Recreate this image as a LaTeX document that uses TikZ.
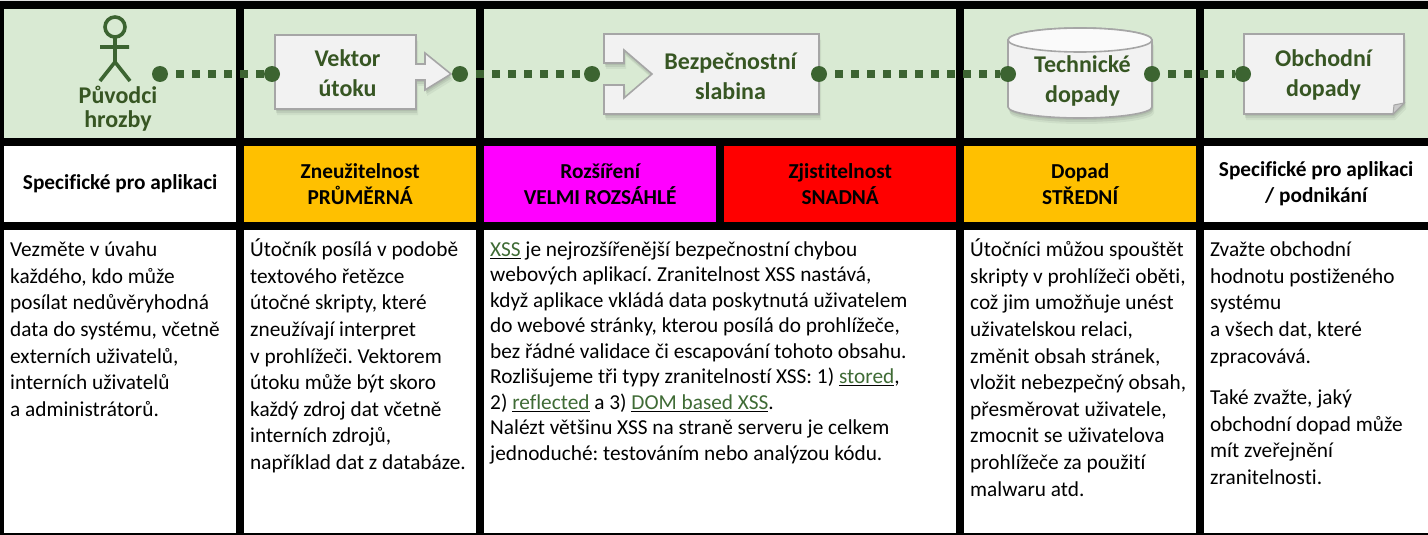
\documentclass[tikz,border=0pt]{standalone}
\usepackage{fontspec}
\setmainfont[Ligatures=NoCommon]{Carlito}
\usetikzlibrary{shadows}
\definecolor{bandgreen}{HTML}{D9EAD3}
\definecolor{darkgreen}{HTML}{375623}
\definecolor{dotgreen}{HTML}{3C6431}
\definecolor{linkgreen}{HTML}{3F6B35}
\definecolor{boxgray}{HTML}{F2F2F2}
\definecolor{boxedge}{HTML}{A6A6A6}
\definecolor{amber}{HTML}{FFC000}
\definecolor{hotmagenta}{HTML}{FF00FF}
\newcommand{\lnk}[1]{\underline{\textcolor{linkgreen}{#1}}}
\newcommand{\fl}{\rule{0pt}{20pt}}
\tikzset{
  x=1pt,y=-1pt,
  band/.style={fill=bandgreen,draw=none},
  cellbox/.style={draw=none,minimum width=232pt,minimum height=76pt,anchor=north west,inner sep=0pt,align=center,font=\frenchspacing\fontsize{21.3}{26}\selectfont\bfseries},
  bodytext/.style={anchor=north west,inner sep=0pt,align=left,font=\frenchspacing\fontsize{21.3}{26.6}\selectfont,text=black},
  densetext/.style={bodytext,font=\frenchspacing\fontsize{21.3}{25.5}\selectfont},
  title/.style={inner sep=0pt,align=center,font=\fontsize{24}{30}\selectfont\bfseries,text=darkgreen},
  actortitle/.style={title,font=\fontsize{24}{24}\selectfont\bfseries},
  shapebox/.style={fill=boxgray,draw=boxedge,line width=1.6pt,line join=miter,
    general shadow={shadow xshift=1pt,shadow yshift=-2pt,fill=black,opacity=.07},
    general shadow={shadow xshift=1pt,shadow yshift=-4pt,fill=black,opacity=.07},
    general shadow={shadow xshift=2pt,shadow yshift=-6pt,fill=black,opacity=.05}},
  joint/.style={circle,fill=dotgreen,draw=none,minimum size=16pt,inner sep=0pt},
  dotted link/.style={draw=dotgreen,line width=8pt,dash pattern=on 8pt off 8pt,dash phase=8pt},
  figure/.style={draw=dotgreen,line width=3.6pt}
}
\begin{document}
\begin{tikzpicture}
\useasboundingbox (0,0) rectangle (1428,535);
\fill[black] (0,1) rectangle (1428,535);
\fill[white!88!black] (0,0) rectangle (1428,1);
% green band
\fill[band] (4,9) rectangle (236,138);
\fill[band] (244,9) rectangle (476,138);
\fill[band] (484,9) rectangle (956,138);
\fill[band] (964,9) rectangle (1196,138);
\fill[band] (1204,9) rectangle (1428,138);
% rating row
\node[cellbox,fill=white] (h1) at (4,146) {Specifické pro aplikaci};
\node[cellbox,fill=amber] (h2) at (244,146) {Zneužitelnost\\PRŮMĚRNÁ};
\node[cellbox,fill=hotmagenta] (h3) at (484,146) {Rozšíření\\VELMI ROZSÁHLÉ};
\node[cellbox,fill=red] (h4) at (724,146) {Zjistitelnost\\SNADNÁ};
\node[cellbox,fill=amber] (h5) at (964,146) {Dopad\\STŘEDNÍ};
\node[cellbox,fill=white,minimum width=224pt] (h6) at (1204,146) {Specifické pro aplikaci\\/ podnikání};
% body cells
\fill[white] (4,230) rectangle (236,533);
\fill[white] (244,230) rectangle (476,533);
\fill[white] (484,230) rectangle (956,533);
\fill[white] (964,230) rectangle (1196,533);
\fill[white] (1204,230) rectangle (1428,533);
\node[bodytext] (t1) at (10,236.5) {\fl Vezměte v úvahu\\každého, kdo může\\posílat nedůvěryhodná\\data do systému, včetně\\externích uživatelů,\\interních uživatelů\\a administrátorů.};
\node[bodytext] (t2) at (250,236.5) {\fl Útočník posílá v podobě\\textového řetězce\\útočné skripty, které\\zneužívají interpret\\v prohlížeči. Vektorem\\útoku může být skoro\\každý zdroj dat včetně\\interních zdrojů,\\například dat z databáze.};
\node[densetext] (t3) at (490,236) {\fl\lnk{XSS} je nejrozšířenější bezpečnostní chybou\\webových aplikací. Zranitelnost XSS nastává,\\když aplikace vkládá data poskytnutá uživatelem\\do webové stránky, kterou posílá do prohlížeče,\\bez řádné validace či escapování tohoto obsahu.\\Rozlišujeme tři typy zranitelností XSS: 1) \lnk{stored},\\2) \lnk{reflected} a 3) \lnk{DOM based XSS}.\\Nalézt většinu XSS na straně serveru je celkem\\jednoduché: testováním nebo analýzou kódu.};
\node[bodytext] (t4) at (970,236.5) {\fl Útočníci můžou spouštět\\skripty v prohlížeči oběti,\\což jim umožňuje unést\\uživatelskou relaci,\\změnit obsah stránek,\\vložit nebezpečný obsah,\\přesměrovat uživatele,\\zmocnit se uživatelova\\prohlížeče za použití\\malwaru atd.};
\node[bodytext] (t5) at (1210,236.5) {\fl Zvažte obchodní\\hodnotu postiženého\\systému\\a všech dat, které\\zpracovává.\\[15pt]Také zvažte, jaký\\obchodní dopad může\\mít zveřejnění\\zranitelnosti.};
% vector box
\path[shapebox] (275,35) -- (416,35) -- (416,64) -- (425,64) -- (425,53) -- (451,74) -- (425,90) -- (425,80) -- (416,80) -- (416,109) -- (275,109) -- cycle;
\node[title] (vt) at (347.5,73) {Vektor\\útoku};
% weakness box
\path[shapebox] (604,34) -- (819,34) -- (819,114) -- (604,114) -- (604,85) -- (624,85) -- (624,98) -- (652,74) -- (624,50) -- (624,63) -- (604,63) -- cycle;
\node[title] (wk) at (730.5,76) {Bezpečnostní\\slabina};
% cylinder
\path[shapebox] (1008,40) -- (1008,107) arc[start angle=180,end angle=360,x radius=72,y radius=-11] -- (1152,40) arc[start angle=0,end angle=180,x radius=72,y radius=-12] -- cycle;
\draw[fill=white!96!gray,draw=boxedge,line width=1.6pt] (1080,40) ellipse[x radius=72,y radius=12];
\node[title] (td) at (1082.5,81) {Technické\\dopady};
% note
\path[shapebox] (1244,34) -- (1404,34) -- (1404,103) -- (1393,114) -- (1244,114) -- cycle;
\fill[boxedge!60!white,draw=boxedge,line width=1pt] (1404,103) -- (1394,105) -- (1393,114) -- cycle;
\node[title] (bd) at (1323.5,74.5) {Obchodní\\dopady};
% actor
\draw[figure] (115,27) circle[radius=10];
\draw[figure] (115,37) -- (115,62) (100,47) -- (129,47) (100,81) -- (115,62) -- (130,81);
\node[actortitle] (pv) at (118,108.5) {Původci\\hrozby};
% joints and connectors
\node[joint] (d1) at (160,74) {};
\node[joint] (d2) at (272,74) {};
\node[joint] (d3) at (460,74) {};
\node[joint] (d4) at (592,74) {};
\node[joint] (d5) at (819,74) {};
\node[joint] (d6) at (1008,74) {};
\node[joint] (d7) at (1152,74) {};
\node[joint] (d8) at (1243,74) {};
\draw[dotted link] (d1) -- (d2);
\draw[dotted link] (d3) -- (d4);
\draw[dotted link] (d5) -- (d6);
\draw[dotted link] (d7) -- (d8);
\end{tikzpicture}
\end{document}
